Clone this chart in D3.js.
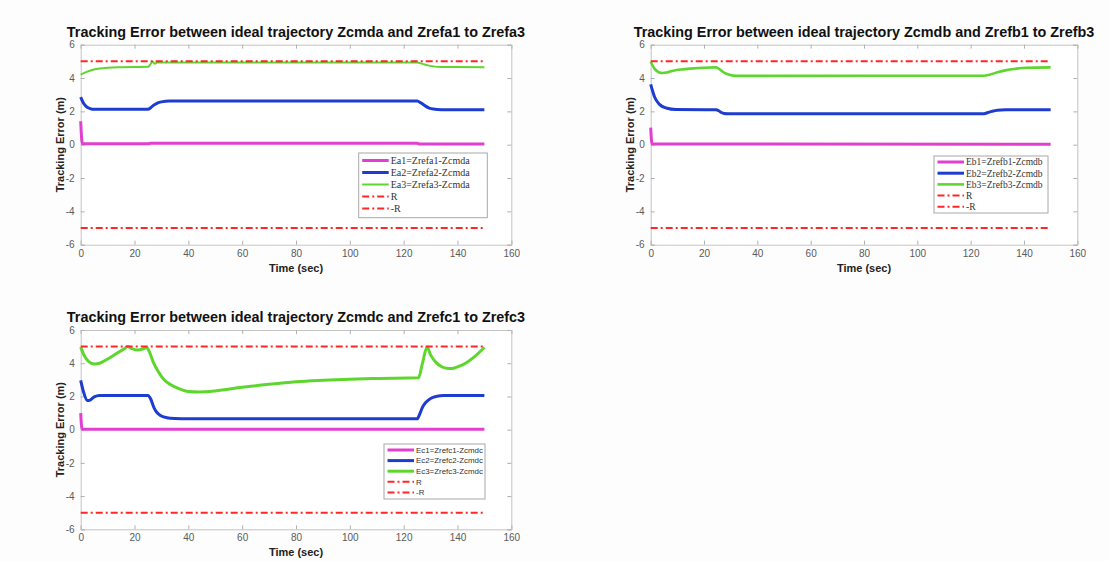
<!DOCTYPE html>
<html>
<head>
<meta charset="utf-8">
<script src="https://cdn.jsdelivr.net/npm/d3@7"></script>
<style>
    body { margin: 0; background: #fdfdfd; }
    text { font-family: "Liberation Sans", Arial, sans-serif; }
</style>
</head>
<body>
<div id="chart"></div>
<script>
// tick values shared by all three panels
var xTicks = [0, 20, 40, 60, 80, 100, 120, 140, 160];
var yTicks = [-6, -4, -2, 0, 2, 4, 6];
var rLimit = [[0, 5], [150, 5]];
var rNegLimit = [[0, -5], [150, -5]];

var titles = [
    "Tracking Error between ideal trajectory Zcmda and Zrefa1 to Zrefa3",
    "Tracking Error between ideal trajectory Zcmdb and Zrefb1 to Zrefb3",
    "Tracking Error between ideal trajectory Zcmdc and Zrefc1 to Zrefc3"
];
var legendA = ["Ea1=Zrefa1-Zcmda", "Ea2=Zrefa2-Zcmda", "Ea3=Zrefa3-Zcmda", "R", "-R"];
var legendB = ["Eb1=Zrefb1-Zcmdb", "Eb2=Zrefb2-Zcmdb", "Eb3=Zrefb3-Zcmdb", "R", "-R"];
var legendC = ["Ec1=Zrefc1-Zcmdc", "Ec2=Zrefc2-Zcmdc", "Ec3=Zrefc3-Zcmdc", "R", "-R"];

// [time (sec), error (m)]
var ea1 = [[0, 1.41], [0.6, 0.05], [25, 0.06], [26, 0.09], [125, 0.09], [126, 0.04], [150, 0.04]];
var ea2 = [[0, 2.85], [1, 2.5], [2, 2.3], [3.5, 2.17], [5, 2.12], [25, 2.12], [26, 2.22], [27, 2.36],
    [28.5, 2.5], [30, 2.57], [33, 2.62], [125, 2.62], [126.5, 2.5], [128, 2.33], [129.5, 2.2],
    [131, 2.14], [134, 2.1], [150, 2.1]];
var ea3 = [[0, 4.2], [2, 4.35], [4, 4.47], [7, 4.57], [10, 4.62], [15, 4.65], [25, 4.67], [26, 4.85],
    [26.7, 4.98], [27.5, 4.86], [28.5, 4.93], [30, 4.93], [125, 4.93], [127, 4.85], [129, 4.76],
    [131, 4.7], [134, 4.66], [150, 4.65]];

var eb1 = [[0, 1.02], [0.5, 0.04], [150, 0.03]];
var eb2 = [[0, 3.62], [1.5, 2.85], [3.3, 2.42], [5.8, 2.2], [9.5, 2.11], [24.5, 2.1], [25.5, 2.04],
    [26.5, 1.93], [27.5, 1.87], [29, 1.86], [125, 1.86], [126.5, 1.93], [128, 2.0], [130, 2.07],
    [133, 2.1], [150, 2.1]];
var eb3 = [[0, 4.98], [1.5, 4.55], [3, 4.35], [4.5, 4.3], [6, 4.33], [8.5, 4.44], [12, 4.52], [16, 4.58],
    [20, 4.62], [24.5, 4.64], [26, 4.5], [27.5, 4.33], [29.5, 4.2], [32, 4.13], [35, 4.13], [125, 4.14],
    [127, 4.2], [130, 4.34], [133, 4.46], [137, 4.56], [141, 4.62], [150, 4.64]];

var ec1 = [[0, 1.0], [0.5, 0.03], [150, 0.03]];
var ec2 = [[0, 2.97], [1, 2.3], [2.5, 1.75], [3.5, 1.78], [5, 1.97], [7, 2.05], [25, 2.06], [26, 1.85],
    [27.3, 1.3], [28.5, 1.0], [30, 0.82], [32, 0.72], [35, 0.67], [40, 0.65], [125, 0.65], [126, 0.95],
    [127, 1.35], [128.3, 1.65], [130, 1.88], [132, 2.0], [135, 2.05], [150, 2.06]];
var ec3 = [[0, 4.97], [1.5, 4.4], [3, 4.1], [5, 3.96], [7, 4.0], [10, 4.25], [13, 4.55], [16, 4.85],
    [17.5, 5.0], [19, 4.88], [21, 4.8], [23, 4.85], [24.5, 4.95], [25.5, 4.7], [27, 4.05], [29, 3.45],
    [31, 3.0], [33.5, 2.7], [36.5, 2.47], [40, 2.3], [44, 2.27], [50, 2.33], [60, 2.55], [70, 2.73],
    [80, 2.88], [90, 2.97], [100, 3.04], [110, 3.08], [125.5, 3.12], [127, 4.0], [128.7, 4.97],
    [130, 4.5], [132, 4.05], [134, 3.8], [136, 3.7], [138, 3.68], [140, 3.78], [143, 4.0], [146, 4.35],
    [150, 4.95]];

var width = 1109;
var height = 561;

var svg = d3.select("#chart")
    .append("svg")
    .attr("width", width)
    .attr("height", height);

var magenta = "#e03fd0";
var blue = "#1e3ccf";
var green = "#5ed62e";
var red = "#ff2626";

var panels = [
    {
        box: [80.7, 511.3, 44.7, 244.7], title: titles[0],
        series: [ea1, ea2, ea3], widths: [3, 3, 2], legend: legendA,
        leg: { x: 358.7, y: 153, w: 128.6, h: 64.7, row: 12, first: 7.5, font: "Liberation Serif", size: 10 }
    },
    {
        box: [650.7, 1077.3, 44.7, 244.7], title: titles[1],
        series: [eb1, eb2, eb3], widths: [3, 3, 2.6], legend: legendB,
        leg: { x: 934, y: 156, w: 114, h: 57, row: 11.2, first: 6, font: "Liberation Serif", size: 9.5 }
    },
    {
        box: [80.7, 511.3, 330, 529.3], title: titles[2],
        series: [ec1, ec2, ec3], widths: [3, 3, 3], legend: legendC,
        leg: { x: 384, y: 444, w: 101, h: 55, row: 10.6, first: 6, font: "Liberation Sans", size: 7.9 }
    }
];

panels.forEach(drawPanel);

function drawPanel(p) {
    var x = d3.scaleLinear().domain([0, 160]).range([p.box[0], p.box[1]]);
    var y = d3.scaleLinear().domain([-6, 6]).range([p.box[3], p.box[2]]);
    var g = svg.append("g");

    g.append("rect")
        .attr("x", p.box[0]).attr("y", p.box[2])
        .attr("width", p.box[1] - p.box[0]).attr("height", p.box[3] - p.box[2])
        .attr("fill", "#ffffff");

    // matlab style box: ticks inside on all four sides, plain hyphen for minus
    var tickLen = 4;
    var fmt = d => String(d);
    g.append("g").attr("transform", "translate(0," + p.box[3] + ")")
        .call(d3.axisBottom(x).tickValues(xTicks).tickSize(-tickLen).tickPadding(5).tickFormat(fmt))
        .call(styleAxis);
    g.append("g").attr("transform", "translate(0," + p.box[2] + ")")
        .call(d3.axisTop(x).tickValues(xTicks).tickSize(-tickLen).tickFormat(""))
        .call(styleAxis);
    g.append("g").attr("transform", "translate(" + p.box[0] + ",0)")
        .call(d3.axisLeft(y).tickValues(yTicks).tickSize(-tickLen).tickPadding(6).tickFormat(fmt))
        .call(styleAxis);
    g.append("g").attr("transform", "translate(" + p.box[1] + ",0)")
        .call(d3.axisRight(y).tickValues(yTicks).tickSize(-tickLen).tickFormat(""))
        .call(styleAxis);

    var line = d3.line()
        .x(d => x(d[0]))
        .y(d => y(d[1]))
        .curve(d3.curveMonotoneX);

    var colors = [magenta, blue, green];
    p.series.forEach(function (s, i) {
        g.append("path")
            .attr("d", line(s))
            .attr("fill", "none")
            .attr("stroke", colors[i])
            .attr("stroke-width", p.widths[i])
            .attr("stroke-linejoin", "round");
    });
    [rLimit, rNegLimit].forEach(function (s) {
        g.append("path")
            .attr("d", line(s))
            .attr("fill", "none")
            .attr("stroke", red)
            .attr("stroke-width", 2)
            .attr("stroke-dasharray", "7,3,2,3");
    });

    var cx = (p.box[0] + p.box[1]) / 2;
    var cy = (p.box[2] + p.box[3]) / 2;
    g.append("text")
        .attr("x", cx).attr("y", p.box[2] - 8)
        .attr("text-anchor", "middle")
        .style("font-size", "14.4px").style("font-weight", "bold")
        .attr("fill", "#111")
        .text(p.title);
    g.append("text")
        .attr("x", cx).attr("y", p.box[3] + 27)
        .attr("text-anchor", "middle")
        .style("font-size", "11px").style("font-weight", "bold")
        .attr("fill", "#222")
        .text("Time (sec)");
    g.append("text")
        .attr("transform", "translate(" + (p.box[0] - 17) + "," + cy + ") rotate(-90)")
        .attr("text-anchor", "middle")
        .style("font-size", "11px").style("font-weight", "bold")
        .attr("fill", "#222")
        .text("Tracking Error (m)");

    // legend
    var L = p.leg;
    var lg = g.append("g");
    lg.append("rect")
        .attr("x", L.x).attr("y", L.y).attr("width", L.w).attr("height", L.h)
        .attr("fill", "#ffffff").attr("stroke", "#a8a8a8").attr("stroke-width", 1);
    var legColors = [magenta, blue, green, red, red];
    var legWidths = p.widths.concat([2, 2]);
    p.legend.forEach(function (label, i) {
        var ry = L.y + L.first + i * L.row;
        lg.append("line")
            .attr("x1", L.x + 3.5).attr("x2", L.x + 30)
            .attr("y1", ry).attr("y2", ry)
            .attr("stroke", legColors[i])
            .attr("stroke-width", legWidths[i])
            .attr("stroke-dasharray", i > 2 ? "7,3,2,3" : null);
        lg.append("text")
            .attr("x", L.x + 32).attr("y", ry)
            .attr("dy", "0.35em")
            .style("font-family", L.font)
            .style("font-size", L.size + "px")
            .attr("fill", "#333")
            .text(label);
    });
}

function styleAxis(sel) {
    sel.select(".domain").attr("stroke", "#c4c4c4");
    sel.selectAll(".tick line").attr("stroke", "#b0b0b0");
    sel.selectAll(".tick text")
        .attr("fill", "#5a5a5a")
        .style("font-size", "10px");
}
</script>
</body>
</html>
